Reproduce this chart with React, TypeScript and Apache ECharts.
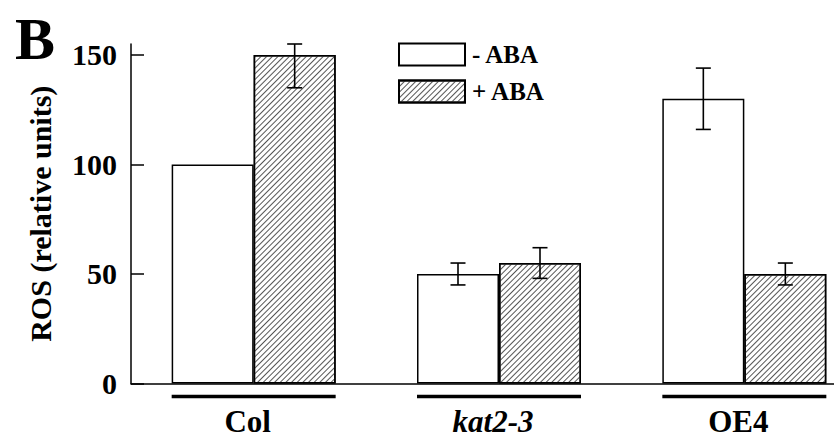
import React, { useEffect, useRef } from "react";
import * as echarts from "echarts";

const categories = ["Col", "kat2-3", "OE4"];
const seriesNames = ["- ABA", "+ ABA"];
const minusABA = [100, 50, 130];
const plusABA = [150, 55, 50];
// error bar ranges [low, high]; null = no error bar
const minusErr: (number[] | null)[] = [null, [45, 55], [116, 144]];
const plusErr: (number[] | null)[] = [[135, 155], [48, 62], [45, 55]];
const yTicks = [0, 50, 100, 150];

const FONT = "Liberation Serif";
const BAR_W = 82;

const hatch = {
  symbol: "rect",
  symbolSize: 1,
  dashArrayX: [1, 0],
  dashArrayY: [1, 3],
  rotation: -Math.PI / 4,
  color: "#555",
  backgroundColor: "#fff",
};

export default function App() {
  const ref = useRef<HTMLDivElement>(null);
  useEffect(() => {
    if (!ref.current) return;
    const chart = echarts.init(ref.current, null, { renderer: "svg" });

    const errSeries = (errs: (number[] | null)[], offset: number) => ({
      type: "custom",
      clip: false,
      silent: true,
      z: 5,
      data: errs
        .map((e, i) => (e ? [i, e[0], e[1]] : null))
        .filter((d) => d !== null),
      renderItem: (params: any, api: any) => {
        const lo = api.coord([api.value(0), api.value(1)]);
        const hi = api.coord([api.value(0), api.value(2)]);
        const x = lo[0] + offset;
        const cap = 7.5;
        const style = { stroke: "#000", lineWidth: 1.6 };
        return {
          type: "group",
          children: [
            { type: "line", shape: { x1: x, y1: lo[1], x2: x, y2: hi[1] }, style },
            { type: "line", shape: { x1: x - cap, y1: lo[1], x2: x + cap, y2: lo[1] }, style },
            { type: "line", shape: { x1: x - cap, y1: hi[1], x2: x + cap, y2: hi[1] }, style },
          ],
        };
      },
    });

    chart.setOption({
      animation: false,
      backgroundColor: "#fff",
      textStyle: { fontFamily: FONT },
      title: {
        text: "B",
        left: 10,
        top: 4,
        textStyle: { fontFamily: FONT, fontSize: 60, fontWeight: "bold", color: "#000" },
      },
      legend: {
        orient: "vertical",
        left: 393,
        top: 37,
        itemWidth: 66,
        itemHeight: 22,
        itemGap: 12,
        icon: "rect",
        data: seriesNames,
        textStyle: {
          fontFamily: FONT,
          fontSize: 25,
          fontWeight: "bold",
          color: "#000",
          padding: [0, 0, 0, 2],
        },
      },
      grid: {
        left: 131,
        top: 44,
        width: 736,
        height: 339.5,
        outerBoundsMode: "none",
        containLabel: false,
      },
      xAxis: {
        type: "category",
        data: categories,
        axisLine: { lineStyle: { color: "#000", width: 1.5 } },
        axisTick: { show: false },
        axisLabel: {
          margin: 22,
          padding: [0, 12, 0, 0],
          fontFamily: FONT,
          fontSize: 31,
          fontWeight: "bold",
          color: "#000",
          formatter: (v: string) => (v === "kat2-3" ? "{i|" + v + "}" : v),
          rich: {
            i: { fontFamily: FONT, fontSize: 31, fontWeight: "bold", fontStyle: "italic", color: "#000" },
          },
        },
      },
      yAxis: {
        type: "value",
        min: 0,
        max: 155,
        interval: 50,
        name: "ROS (relative units)",
        nameLocation: "middle",
        nameRotate: 90,
        nameGap: 76,
        nameTextStyle: { fontFamily: FONT, fontSize: 30, fontWeight: "bold", color: "#000" },
        splitLine: { show: false },
        axisLine: { show: true, lineStyle: { color: "#000", width: 1.5 } },
        axisTick: {
          show: true,
          inside: true,
          length: 13,
          customValues: yTicks,
          lineStyle: { color: "#000", width: 1.5 },
        },
        axisLabel: {
          margin: 14,
          customValues: yTicks,
          fontFamily: FONT,
          fontSize: 30,
          fontWeight: "bold",
          color: "#000",
        },
      },
      series: [
        {
          name: seriesNames[0],
          type: "bar",
          data: minusABA,
          barWidth: BAR_W,
          barGap: "0%",
          itemStyle: { color: "#fff", borderColor: "#000", borderWidth: 1.5 },
        },
        {
          name: seriesNames[1],
          type: "bar",
          data: plusABA,
          barWidth: BAR_W,
          barGap: "0%",
          itemStyle: { color: "#fff", borderColor: "#000", borderWidth: 1.5, decal: hatch },
        },
        errSeries(minusErr, -BAR_W / 2),
        errSeries(plusErr, BAR_W / 2),
        {
          type: "custom",
          clip: false,
          silent: true,
          data: categories.map((_, i) => [i, 0]),
          renderItem: (params: any, api: any) => {
            const p = api.coord([api.value(0), 0]);
            return {
              type: "line",
              shape: { x1: p[0] - BAR_W, y1: p[1] + 13, x2: p[0] + BAR_W, y2: p[1] + 13 },
              style: { stroke: "#000", lineWidth: 3.5 },
            };
          },
        },
      ],
    });
    return () => chart.dispose();
  }, []);
  return (
    <div
      ref={ref}
      style={{ position: "absolute", left: 0, top: 0, width: 834, height: 437 }}
    />
  );
}
